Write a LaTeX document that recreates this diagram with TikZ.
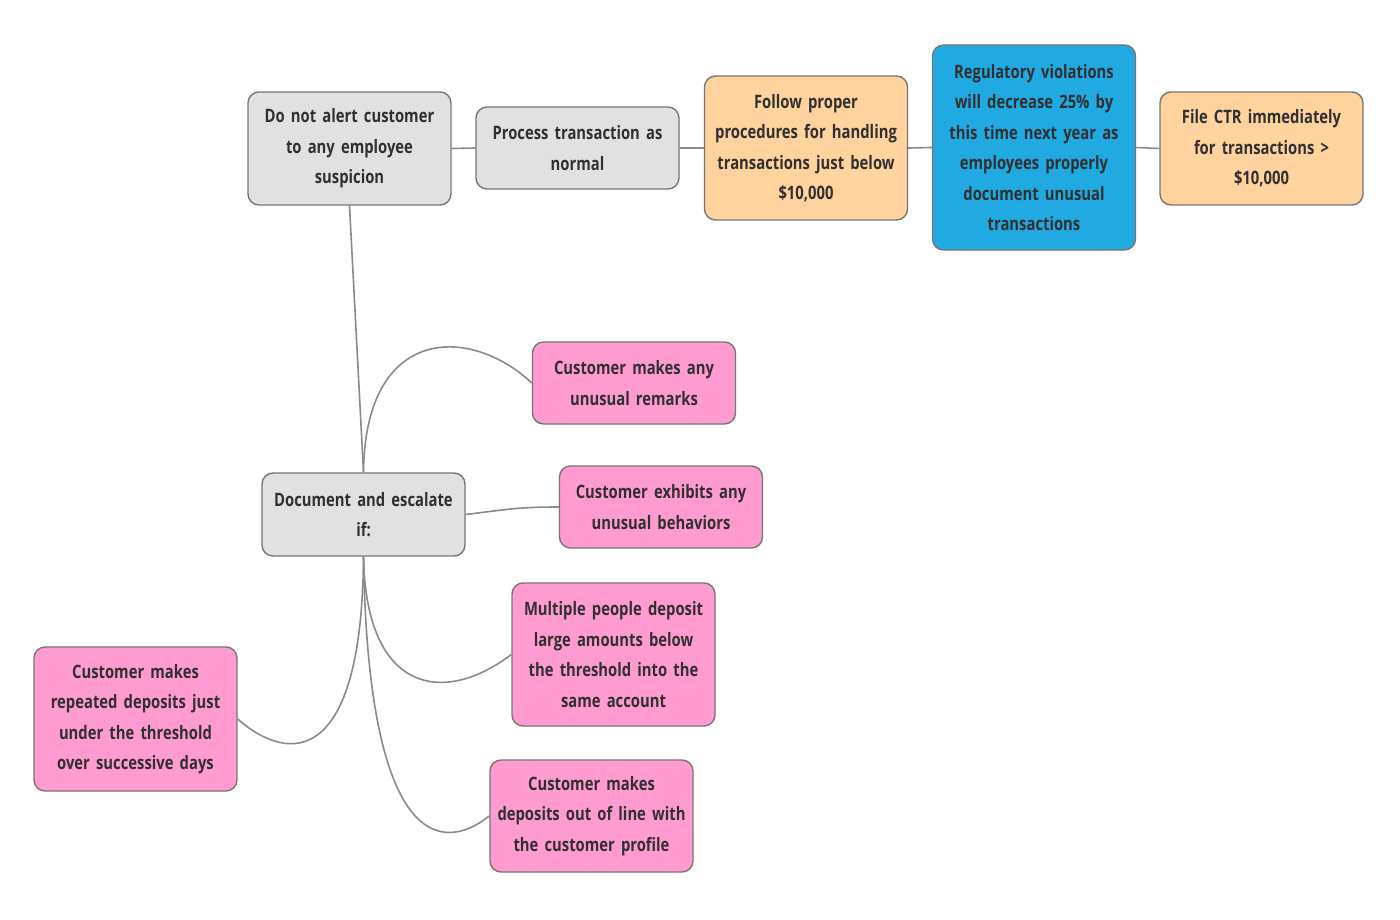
\documentclass[tikz,border=0pt]{standalone}
\usepackage{fontspec}
\setmainfont{Open Sans}[FakeStretch=0.8, WordSpace=0.6]
\definecolor{grayfill}{HTML}{E1E1E1}
\definecolor{orangefill}{HTML}{FFD29E}
\definecolor{bluefill}{HTML}{21A9E1}
\definecolor{pinkfill}{HTML}{FF9BD0}
\definecolor{edgecol}{HTML}{767676}
\definecolor{linecol}{HTML}{8A8A8A}
\definecolor{txtcol}{HTML}{303030}
\tikzset{
  box/.style={draw=edgecol, line width=1.4pt, rounded corners=11pt, minimum width=203pt,
    text width=198pt, align=center, inner sep=0pt, text=txtcol,
    font=\fontsize{18.5}{30.5}\selectfont\bfseries},
  graybox/.style={box, fill=grayfill},
  orangebox/.style={box, fill=orangefill},
  bluebox/.style={box, fill=bluefill},
  pinkbox/.style={box, fill=pinkfill},
  conn/.style={draw=linecol, line width=1.6pt}
}
\begin{document}
\begin{tikzpicture}[x=1pt,y=-1pt]
\useasboundingbox[fill=white] (0,0) rectangle (1400,920);
\node[graybox, minimum height=113pt] (n1) at (349.5,148.5) {Do not alert customer\\to any employee\\suspicion};
\node[graybox, minimum height=82pt] (n2) at (577.5,148) {Process transaction as\\normal};
\node[orangebox, minimum height=144pt] (n3) at (806,148) {Follow proper\\procedures for handling\\transactions just below\\\$10,000};
\node[bluebox, minimum height=205pt] (n4) at (1034,147.5) {Regulatory violations\\will decrease 25\% by\\this time next year as\\employees properly\\document unusual\\transactions};
\node[orangebox, minimum height=113pt] (n5) at (1261.5,148.5) {File CTR immediately\\for transactions >\\\$10,000};
\node[graybox, minimum height=83pt] (n6) at (363.5,514.5) {Document and escalate\\if:};
\node[pinkbox, minimum height=82pt] (n7) at (634,383) {Customer makes any\\unusual remarks};
\node[pinkbox, minimum height=82pt] (n8) at (661,507) {Customer exhibits any\\unusual behaviors};
\node[pinkbox, minimum height=143pt] (n9) at (613.5,654.5) {Multiple people deposit\\large amounts below\\the threshold into the\\same account};
\node[pinkbox, minimum height=144pt] (n10) at (135.5,719) {Customer makes\\repeated deposits just\\under the threshold\\over successive days};
\node[pinkbox, minimum height=112pt] (n11) at (591.5,816) {Customer makes\\deposits out of line with\\the customer profile};
\draw[conn] (n1.east) -- (n2.west);
\draw[conn] (n2.east) -- (n3.west);
\draw[conn] (n3.east) -- (n4.west);
\draw[conn] (n4.east) -- (n5.west);
\draw[conn] (n1.south) -- (n6.north);
\draw[conn] (n6.north) .. controls (365,325) and (470,325) .. (n7.west);
\draw[conn] (n6.east) .. controls (510,509) and (520,507) .. (n8.west);
\draw[conn] (n6.south) .. controls (366,695) and (445,705) .. (n9.west);
\draw[conn] (n6.south) .. controls (362,765) and (290,765) .. (n10.east);
\draw[conn] (n6.south) .. controls (368,845) and (440,855) .. (n11.west);
\end{tikzpicture}
\end{document}
